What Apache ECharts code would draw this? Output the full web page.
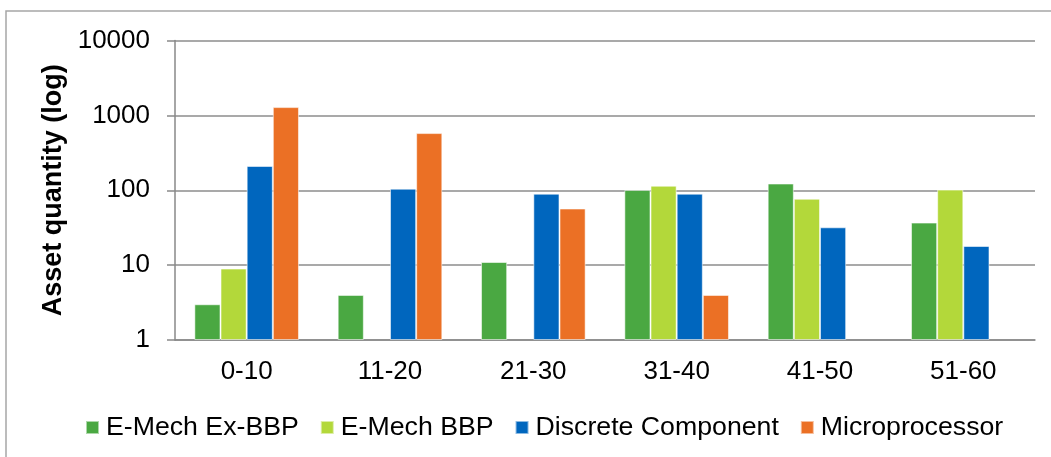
<!DOCTYPE html>
<html>
<head>
<meta charset="utf-8">
<script src="https://cdn.jsdelivr.net/npm/echarts@6/dist/echarts.min.js"></script>
<style>
  html, body { margin: 0; padding: 0; background: #fff; }
  #chart { width: 1051px; height: 457px; }
</style>
</head>
<body>
<div id="chart"></div>
<script>
// categories and values
const categories = ["0-10", "11-20", "21-30", "31-40", "41-50", "51-60"];
const eMechExBBP = [3, 4, 11, 101, 123, 37];
const eMechBBP = [9, null, null, 115, 77, 102];
const discrete = [211, 105, 90, 90, 32, 18];
const micro = [1290, 580, 57, 4, null, null];
const yTicks = [1, 10, 100, 1000, 10000];

const font = "'Liberation Sans', Arial, sans-serif";
const axisGray = "#898989";

function bar(name, data, color) {
  return {
    name: name,
    type: "bar",
    data: data,
    barGap: "0%",
    barCategoryGap: "27%",
    itemStyle: {
      color: color,
      borderColor: "rgba(255,255,255,0.55)",
      borderWidth: 1
    }
  };
}

let myChart = echarts.init(document.getElementById("chart"));
myChart.setOption({
  animation: false,
  textStyle: { fontFamily: font },
  grid: { left: 175, top: 40.5, right: 16, bottom: 117 },
  legend: {
    top: 409,
    left: 80,
    itemWidth: 13,
    itemHeight: 13,
    itemGap: 21,
    icon: "rect",
    textStyle: { fontSize: 26.7, color: "#000", fontFamily: font, padding: [0, 0, 0, 2] },
    data: ["E-Mech Ex-BBP", "E-Mech BBP", "Discrete Component", "Microprocessor"]
  },
  xAxis: {
    type: "category",
    data: categories,
    axisLine: { lineStyle: { color: axisGray, width: 1.5 } },
    axisTick: { length: 7, lineStyle: { color: axisGray, width: 1.5 } },
    axisLabel: { fontSize: 26, color: "#000", margin: 19 }
  },
  yAxis: {
    type: "log",
    logBase: 10,
    min: yTicks[0],
    max: yTicks[yTicks.length - 1],
    splitNumber: 4,
    name: "Asset quantity (log)",
    nameLocation: "middle",
    nameGap: 100,
    nameTextStyle: { fontSize: 27, fontWeight: "bold", color: "#000" },
    axisLine: { show: true, lineStyle: { color: axisGray, width: 1.5 } },
    axisTick: { show: true, inside: false, length: 8, lineStyle: { color: axisGray, width: 1.5 } },
    axisLabel: { fontSize: 26, color: "#000", margin: 25, formatter: v => String(Math.round(v)) },
    splitLine: { lineStyle: { color: "#8c8c8c", width: 1.5 } }
  },
  graphic: [{
    type: "rect",
    shape: { x: 6, y: 11, width: 1100, height: 500 },
    style: { fill: null, stroke: "#a6a6a6", lineWidth: 1.5 },
    silent: true
  }],
  series: [
    bar("E-Mech Ex-BBP", eMechExBBP, "#4aa842"),
    bar("E-Mech BBP", eMechBBP, "#b3d83a"),
    bar("Discrete Component", discrete, "#0066be"),
    bar("Microprocessor", micro, "#eb7025")
  ]
});
</script>
</body>
</html>
